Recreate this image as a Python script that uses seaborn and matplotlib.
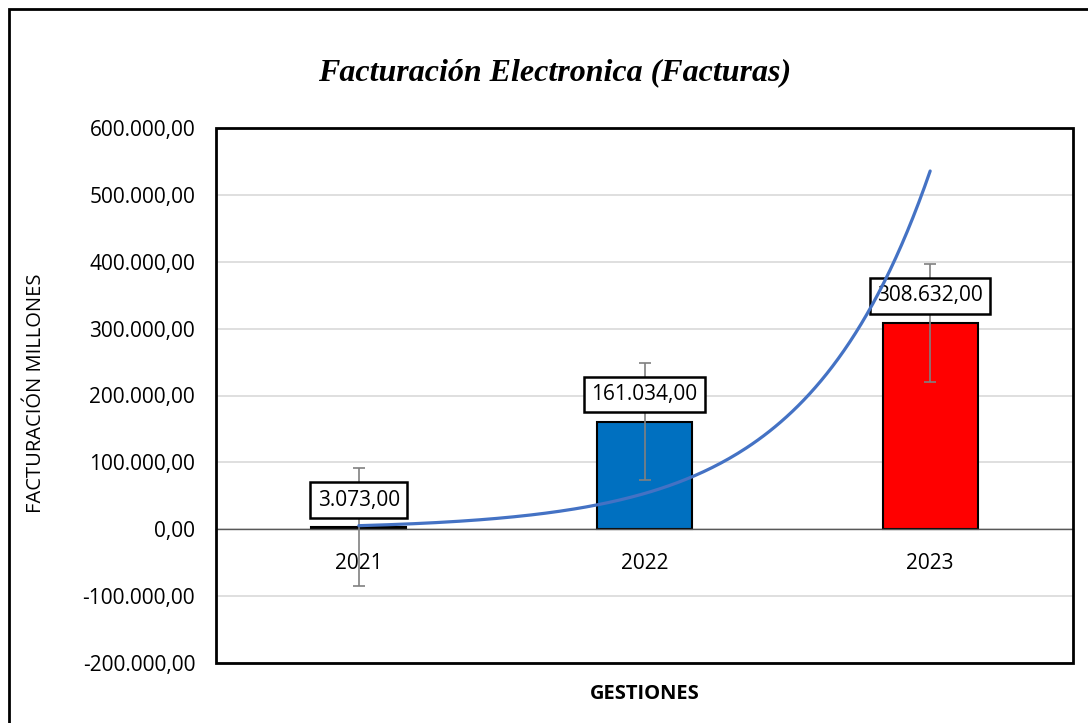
import numpy as np
import pandas as pd
import matplotlib
matplotlib.use("Agg")
import matplotlib.pyplot as plt
from matplotlib.patches import Rectangle
from matplotlib.ticker import FuncFormatter
import seaborn as sns

years = ["2021", "2022", "2023"]
values = [3073.0, 161034.0, 308632.0]
errors = [88000.0, 88000.0, 88000.0]
bar_colors = ["#000000", "#0070C0", "#FF0000"]
y_ticks = [-200000, -100000, 0, 100000, 200000, 300000, 400000, 500000, 600000]

def fmt(v, pos=None):
    s = f"{v:,.2f}"
    return s.replace(",", "X").replace(".", ",").replace("X", ".")

sns.set_theme(style="white")
plt.rcParams['font.family'] = ['Open Sans', 'DejaVu Sans']

df = pd.DataFrame({"year": years, "value": values})

fig = plt.figure(figsize=(10.88, 7.23), dpi=100)
ax = fig.add_axes([216/1088, 1-663/723, (1073-216)/1088, (663-128)/723])

sns.barplot(data=df, x="year", y="value", hue="year", palette=bar_colors,
            saturation=1, width=0.333, edgecolor="black", linewidth=1.5,
            legend=False, ax=ax, zorder=2)

xs = np.arange(len(years))
ax.errorbar(xs, values, yerr=errors, fmt="none", ecolor="#808080",
            elinewidth=1.2, capsize=4.5, capthick=1.2, zorder=3)

# exponential trendline fitted on data
b, a = np.polyfit(xs + 1, np.log(values), 1)
xt = np.linspace(0, 2, 200)
yt = np.exp(a + b * (xt + 1))

for i, v in enumerate(values):
    ax.annotate(fmt(v), xy=(i, v), xytext=(0, 27), textcoords="offset pixels",
                ha="center", va="center", fontsize=15, color="black", zorder=4,
                bbox=dict(boxstyle="square,pad=0.35", fc="white", ec="black", lw=1.8))

ax.plot(xt, yt, color="#4472C4", lw=2.3, zorder=5, solid_capstyle="round")

ax.set_xlim(-0.5, 2.5)
ax.set_ylim(-200000, 600000)
ax.set_yticks(y_ticks)
ax.yaxis.set_major_formatter(FuncFormatter(fmt))
ax.grid(axis="y", color="#d9d9d9", lw=1.2, zorder=0)
ax.set_axisbelow(True)

for s in ["top", "left", "right"]:
    ax.spines[s].set_visible(False)
ax.spines["bottom"].set_position(("data", 0))
ax.spines["bottom"].set_color("#595959")
ax.spines["bottom"].set_linewidth(1.0)
ax.add_patch(Rectangle((0, 0), 1, 1, transform=ax.transAxes, fill=False,
                       ec="black", lw=2, clip_on=False, zorder=6))

ax.tick_params(axis="y", length=0, pad=15, labelsize=15, labelcolor="black")
ax.tick_params(axis="x", length=0, pad=17, labelsize=15, labelcolor="black")

ax.set_xlabel("GESTIONES", fontsize=14.5, fontweight="bold", color="black")
ax.xaxis.set_label_coords(0.5, -0.04)
ax.set_ylabel("FACTURACIÓN MILLONES", fontsize=14.5, color="black")
ax.yaxis.set_label_coords((46-216)/857, (663-393)/535)

fig.text(555/1088, 1-73/723, "Facturación Electronica (Facturas)",
         ha="center", va="center", fontsize=23, fontweight="bold", fontstyle="italic",
         family=["Liberation Serif", "DejaVu Serif"], color="black")

fig.patches.append(Rectangle((9/1088, -0.05), 1.2, 1 - 9/723 + 0.05,
                             transform=fig.transFigure, fill=False, ec="black", lw=2))

fig.savefig("out.png", dpi=100)
